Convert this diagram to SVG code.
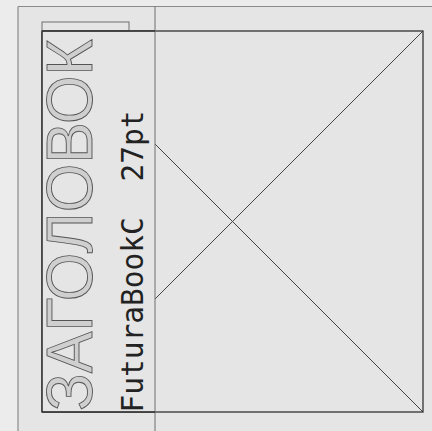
<svg xmlns="http://www.w3.org/2000/svg" width="432" height="431" viewBox="0 0 432 431">
<style>
.frame{fill:none;stroke:#8a8a8a;stroke-width:1.2}
.thin{fill:none;stroke:#6e6e6e;stroke-width:1}
.box{fill:none;stroke:#333;stroke-width:1.3}
.diag{stroke:#444;stroke-width:1}
.title{font-family:"Liberation Sans","DejaVu Sans",sans-serif;font-size:64px;fill:#cfcfcf;stroke:#555;stroke-width:0.9}
.label{font-family:"DejaVu Sans Mono","Liberation Mono",monospace;font-size:29.5px;fill:#222}
</style>
<rect x="0" y="0" width="432" height="431" fill="#ececec"/>
<rect x="18" y="6.5" width="420" height="430" fill="#e5e5e5"/>
<g id="frame">
<line class="frame" x1="18" y1="6.5" x2="432" y2="6.5"/>
<line class="frame" x1="18" y1="6.5" x2="18" y2="431"/>
</g>
<g id="connectors">
<line class="diag" x1="42" y1="31" x2="423" y2="412"/>
<line class="diag" x1="42" y1="412" x2="423" y2="31"/>
</g>
<g id="image-box">
<rect class="box" x="42" y="31" width="381" height="381"/>
</g>
<g id="panel">
<rect x="42.6" y="31.7" width="112.4" height="379.6" fill="#e5e5e5"/>
<line class="box" x1="42" y1="31" x2="42" y2="412"/>
<line class="thin" x1="155" y1="6.5" x2="155" y2="431"/>
<rect class="thin" x="42" y="22" width="87" height="9" fill="#e5e5e5"/>
<line class="box" x1="42" y1="31" x2="155" y2="31"/>
<line class="box" x1="42" y1="412" x2="155" y2="412"/>
</g>
<g id="title">
<text class="title" transform="translate(92,411) rotate(-90)" textLength="372" lengthAdjust="spacingAndGlyphs">ЗАГОЛОВОК</text>
</g>
<g id="label">
<text class="label" transform="translate(143,412.5) rotate(-90)" xml:space="preserve">FuturaBookC  27pt</text>
</g>
</svg>
